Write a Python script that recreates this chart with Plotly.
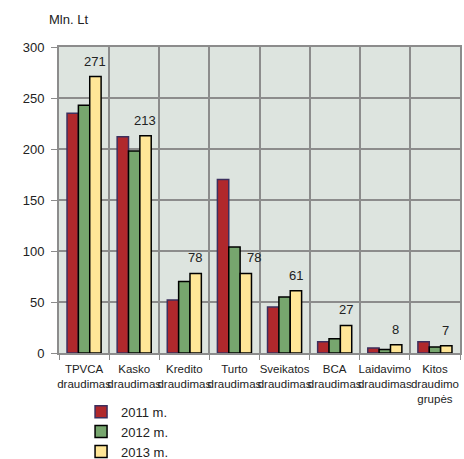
import plotly.graph_objects as go

categories = ["TPVCA<br>draudimas", "Kasko<br>draudimas", "Kredito<br>draudimas",
              "Turto<br>draudimas", "Sveikatos<br>draudimas", "BCA<br>draudimas",
              "Laidavimo<br>draudimas", "Kitos<br>draudimo<br>grupės"]
v2011 = [235, 212, 52, 170, 45, 11, 5, 11]
v2012 = [243, 198, 70, 104, 55, 14, 3.5, 6]
v2013 = [271, 213, 78, 78, 61, 27, 8, 7]
series_names = ["2011 m.", "2012 m.", "2013 m."]
label_xshift = [0, 0, 0, 9, 0, 0, 0, 0]

FONT = "Liberation Sans, Arial, sans-serif"

fig = go.Figure()
colors = ["#B0282C", "#77A66E", "#FFE697"]
outlines = ["#3C2F5E", "#000000", "#000000"]
for name, vals, c, o in zip(series_names, [v2011, v2012, v2013], colors, outlines):
    fig.add_trace(go.Bar(x=categories, y=vals, name=name,
                         marker=dict(color=c, line=dict(color=o, width=1.5))))

for cat, v, xs in zip(categories, v2013, label_xshift):
    fig.add_annotation(x=cat, y=v, text=str(v), showarrow=False, yanchor="bottom",
                       yshift=6, xshift=xs + 11, font=dict(size=13, color="#222"))

fig.update_layout(
    width=464, height=459,
    margin=dict(l=59, r=4, t=47, b=106, autoexpand=False),
    paper_bgcolor="white", plot_bgcolor="#DDE4DF",
    barmode="group", bargap=0.32, bargroupgap=0,
    font=dict(family=FONT, size=13, color="#222"),
    showlegend=True,
    legend=dict(orientation="v", x=0.055, xanchor="left", y=-0.143, yanchor="top",
                font=dict(size=13), bgcolor="rgba(0,0,0,0)", tracegroupgap=0,
                itemwidth=30),
    annotations=list(fig.layout.annotations) + [
        dict(text="Mln. Lt", xref="paper", yref="paper", x=-0.03, y=1.06,
             xanchor="left", yanchor="bottom", showarrow=False, font=dict(size=13))],
)
fig.update_xaxes(tickson="boundaries", ticks="outside", ticklen=5, tickcolor="#8C8C8C",
                 showgrid=True, gridcolor="#8C8C8C", gridwidth=2,
                 showline=True, linecolor="#8C8C8C", linewidth=2, mirror=True,
                 tickfont=dict(size=11.5), tickangle=0, automargin=False,
                 ticklabelstandoff=4)
fig.update_yaxes(range=[0, 300], dtick=50, ticks="outside", ticklen=6, tickcolor="#8C8C8C",
                 showgrid=True, gridcolor="#8C8C8C", gridwidth=1.5,
                 showline=True, linecolor="#8C8C8C", linewidth=2, mirror=True,
                 tickfont=dict(size=13), zeroline=False, automargin=False,
                 ticklabelstandoff=4)

fig.write_html("out.html")
